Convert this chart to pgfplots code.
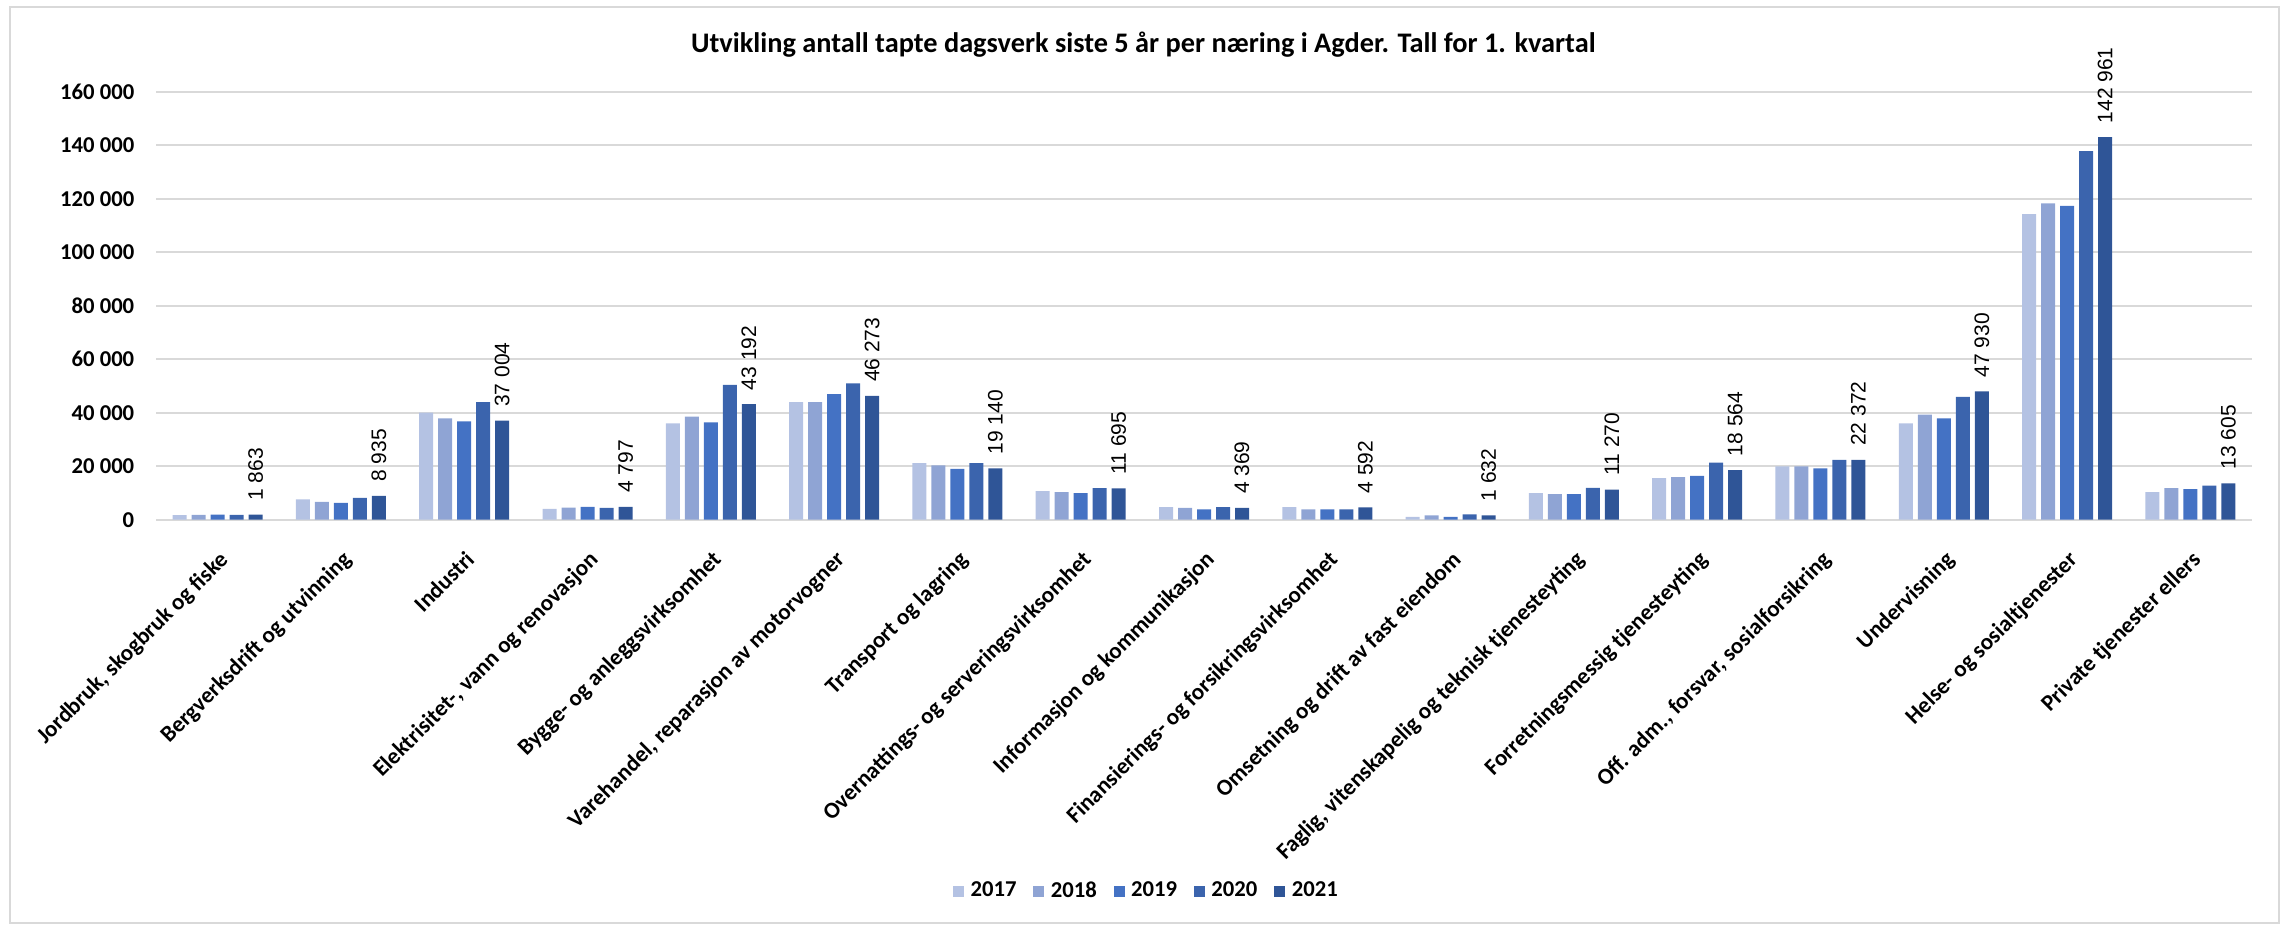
\documentclass[border=0pt]{standalone}
\usepackage{fontspec}
\setmainfont{Carlito}
\newfontfamily\arialfont{Liberation Sans}
\usepackage{pgfplots}
\usepackage{pgfplotstable}
\pgfplotsset{compat=1.18}
\definecolor{gridgray}{HTML}{D9D9D9}
\definecolor{cA}{HTML}{B4C2E3}
\definecolor{cB}{HTML}{8FA4D4}
\definecolor{cC}{HTML}{4472C4}
\definecolor{cD}{HTML}{3B64AD}
\definecolor{cE}{HTML}{2F5597}
\pgfkeys{/pgf/number format/.cd, fixed, precision=0, 1000 sep={\ }, assume math mode=true}
\pgfplotstableread{
x y2017 y2018 y2019 y2020 y2021
0 1700 1800 1850 1800 1863
1 7620 6680 6280 8150 8935
2 39970 37830 36760 43980 37004
3 4010 4540 4810 4410 4797
4 35960 38500 36360 50390 43192
5 43980 43980 46920 50930 46273
6 21120 20320 18980 21120 19140
7 10690 10290 9890 11760 11695
8 4680 4410 3880 4680 4369
9 4680 3880 3880 3880 4592
10 1070 1600 1070 2000 1632
11 9910 9510 9510 11920 11270
12 15530 15930 16340 21290 18564
13 19950 19950 19150 22360 22372
14 36020 39230 37890 45930 47930
15 114220 118230 117300 137790 142961
16 10310 11780 11380 12720 13605
}\datatable
\begin{document}
\begin{tikzpicture}
\useasboundingbox (-46.8pt,-121.6pt) rectangle (637.8pt,155.9pt);
\draw[gridgray, line width=0.6pt] (-43.8pt,-121pt) rectangle (636.9pt,153.9pt);
\begin{axis}[
  at={(0pt,0pt)}, anchor=south west,
  scale only axis, width=628.8pt, height=128.4pt,
  xmin=-0.5, xmax=16.5, ymin=0, ymax=160000,
  ybar=1.5pt, bar width=4.2pt,
  axis line style={draw=none},
  major tick length=0pt,
  ytick={0,20000,...,160000},
  scaled y ticks=false,
  ymajorgrids, grid style={gridgray, line width=0.6pt},
  yticklabel style={font=\fontsize{6.8}{8}\selectfont\bfseries, xshift=-3pt},
  xtick=data,
  xticklabels={{Jordbruk, skogbruk og fiske},{Bergverksdrift og utvinning},{Industri},{Elektrisitet-, vann og renovasjon},{Bygge- og anleggsvirksomhet},{Varehandel, reparasjon av motorvogner},{Transport og lagring},{Overnattings- og serveringsvirksomhet},{Informasjon og kommunikasjon},{Finansierings- og forsikringsvirksomhet},{Omsetning og drift av fast eiendom},{Faglig, vitenskapelig og teknisk tjenesteyting},{Forretningsmessig tjenesteyting},{Off. adm., forsvar, sosialforsikring},{Undervisning},{Helse- og sosialtjenester},{Private tjenester ellers}},
  xticklabel style={font=\fontsize{6.9}{8}\selectfont\bfseries, rotate=45, anchor=north east},
  xticklabel shift=4pt,
  legend columns=5,
  legend style={at={(0.4736,-0.870)}, anchor=center, draw=none, fill=none,
    font=\fontsize{6.8}{8}\selectfont\bfseries,
    /tikz/every even column/.append style={column sep=3pt}},
  legend image code/.code={\fill[#1] (0pt,-1.6pt) rectangle (3.3pt,1.7pt);},
]
\addplot[fill=cA, draw=none] table[x=x, y=y2017] {\datatable};
\addplot[fill=cB, draw=none] table[x=x, y=y2018] {\datatable};
\addplot[fill=cC, draw=none] table[x=x, y=y2019] {\datatable};
\addplot[fill=cD, draw=none] table[x=x, y=y2020] {\datatable};
\addplot[fill=cE, draw=none, nodes near coords,
  every node near coord/.append style={rotate=90, anchor=west, font=\arialfont\fontsize{6.3}{7}\selectfont, text=black, inner sep=1pt, xshift=3pt}]
  table[x=x, y=y2021] {\datatable};
\legend{2017,2018,2019,2020,2021}
\end{axis}
\node[font=\fontsize{8.5}{10}\selectfont\bfseries] at (296.2pt,142.5pt) {Utvikling antall tapte dagsverk siste 5 år per næring i Agder. Tall for 1. kvartal};
\end{tikzpicture}
\end{document}
